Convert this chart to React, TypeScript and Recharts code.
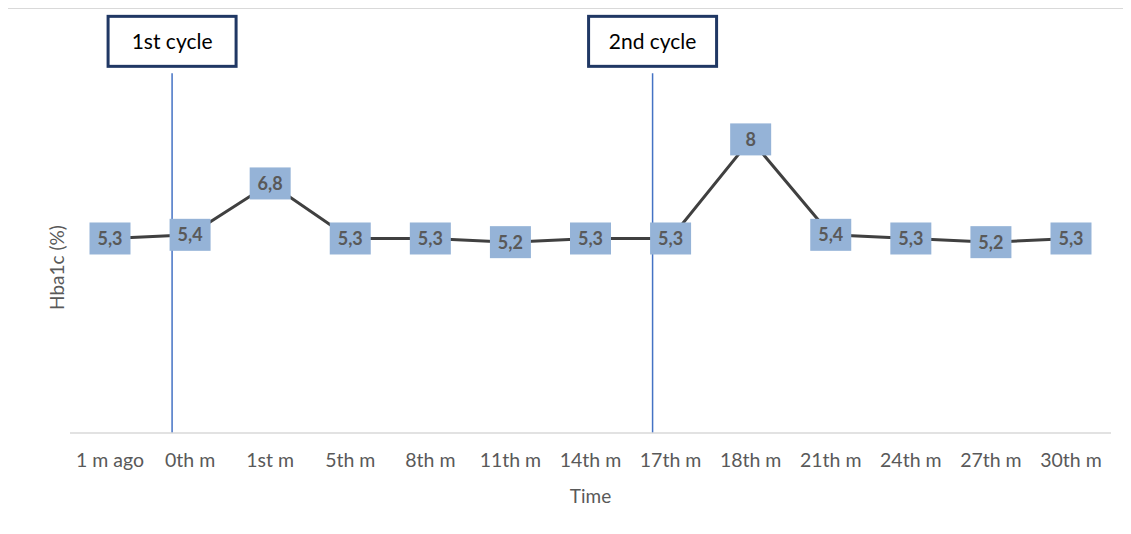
import { LineChart, Line, XAxis, YAxis, ReferenceLine, LabelList } from "recharts"

const months = [
  "1 m ago", "0th m", "1st m", "5th m", "8th m", "11th m", "14th m",
  "17th m", "18th m", "21th m", "24th m", "27th m", "30th m",
]
const hba1c = [5.3, 5.4, 6.8, 5.3, 5.3, 5.2, 5.3, 5.3, 8, 5.4, 5.3, 5.2, 5.3]
const cycles = [
  { at: "0th m", name: "1st cycle" },
  { at: "17th m", name: "2nd cycle" },
]

const data = months.map((m, i) => ({ month: m, value: hba1c[i] }))

const font = "Lato, 'Open Sans', sans-serif"

function ValueBox(props: any) {
  const { x, y, value } = props
  const w = 41
  const h = 32
  return (
    <g>
      <rect x={x - w / 2} y={y - h / 2} width={w} height={h} fill="#95B3D7" />
      <text
        x={x}
        y={y}
        dy="0.36em"
        textAnchor="middle"
        fontFamily={font}
        fontWeight={700}
        fontSize={18}
        fill="#595959"
      >
        {String(value).replace(".", ",")}
      </text>
    </g>
  )
}

// cycle marker: thin blue line drawn just left of the point, box with the cycle name above it
function CycleMarker(props: any, text: string) {
  const { x1, y1, x2, y2 } = props
  if (x1 == null) return <g />
  const x = x1 - 18
  const top = Math.min(y1, y2)
  const bottom = Math.max(y1, y2)
  const w = 128
  const h = 50
  const bt = top - 7 - h
  return (
    <g>
      <line x1={x} x2={x} y1={top} y2={bottom} stroke="#4472C4" strokeWidth={1.5} />
      <rect x={x - w / 2} y={bt} width={w} height={h} fill="#fff" stroke="#203864" strokeWidth={3} />
      <text x={x} y={bt + h / 2} dy="0.36em" textAnchor="middle" fontFamily={font} fontSize={21} fill="#000">
        {text}
      </text>
    </g>
  )
}

export default function App() {
  return (
    <div
      style={{
        marginLeft: -3,
        width: 1117,
        height: 516,
        borderTop: "1px solid #D9D9D9",
        borderLeft: "1px solid #D9D9D9",
        background: "#fff",
      }}
    >
      <LineChart width={1117} height={516} data={data} margin={{ top: 57, right: 12, left: 0, bottom: 32 }}>
        <XAxis
          dataKey="month"
          axisLine={{ stroke: "#D9D9D9", strokeWidth: 1.5 }}
          tickLine={false}
          tickMargin={14}
          height={60}
          padding={{ left: 40, right: 40 }}
          tick={{ fill: "#595959", fontSize: 19.5, fontFamily: font }}
          interval={0}
          label={(p: any) => (
            <text
              x={p.viewBox.x + p.viewBox.width / 2}
              y={p.viewBox.y + 70}
              textAnchor="middle"
              fontFamily={font}
              fontSize={19}
              fill="#595959"
            >
              Time
            </text>
          )}
        />
        <YAxis
          domain={[0, 10]}
          width={64}
          axisLine={false}
          tickLine={false}
          tick={false}
          label={(p: any) => {
            const x = p.viewBox.x + 58
            const y = p.viewBox.y + p.viewBox.height / 2 + 18
            return (
              <text
                x={x}
                y={y}
                transform={`rotate(-90, ${x}, ${y})`}
                textAnchor="middle"
                fontFamily={font}
                fontSize={19}
                fill="#595959"
              >
                Hba1c (%)
              </text>
            )
          }}
        />
        {cycles.map((c) => (
          <ReferenceLine
            key={c.at}
            segment={[
              { x: c.at, y: 0 },
              { x: c.at, y: 9.8 },
            ]}
            shape={(p: any) => CycleMarker(p, c.name)}
          />
        ))}
        <Line
          type="linear"
          dataKey="value"
          stroke="#404040"
          strokeWidth={3}
          dot={false}
          activeDot={false}
          isAnimationActive={false}
        >
          <LabelList dataKey="value" content={<ValueBox />} />
        </Line>
      </LineChart>
    </div>
  )
}
